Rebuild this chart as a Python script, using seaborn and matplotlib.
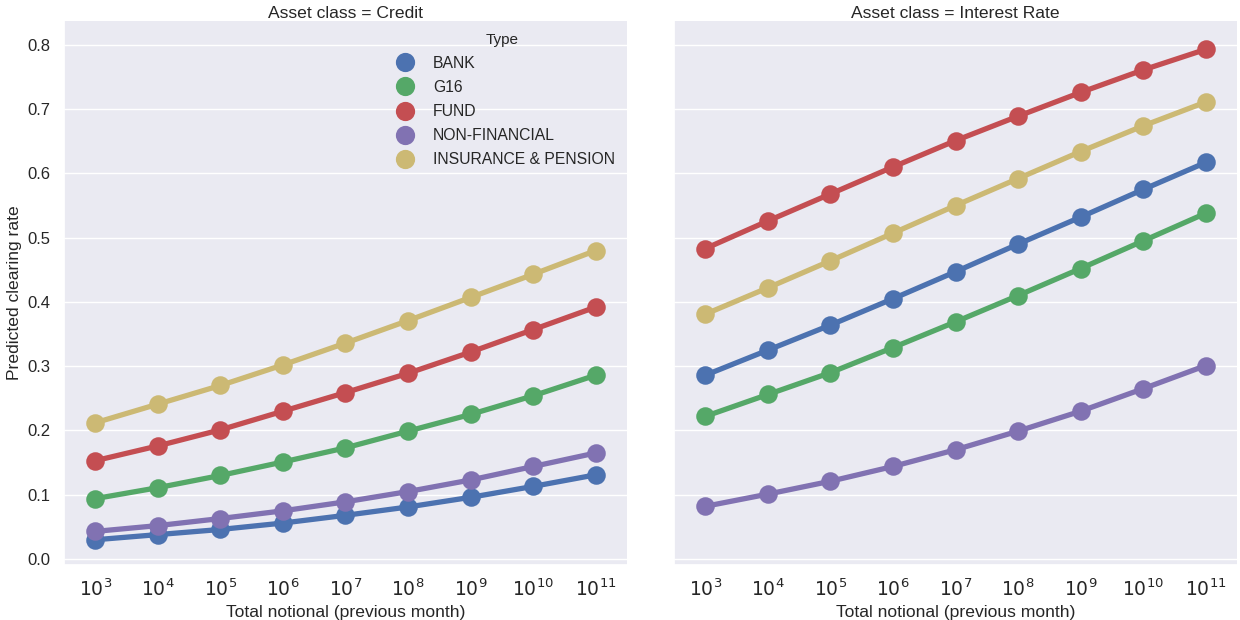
import numpy as np
import pandas as pd
import seaborn as sns
import matplotlib.pyplot as plt

# values
notional = ['$10^{3}$', '$10^{4}$', '$10^{5}$', '$10^{6}$', '$10^{7}$',
            '$10^{8}$', '$10^{9}$', '$10^{10}$', '$10^{11}$']
types = ['BANK', 'G16', 'FUND', 'NON-FINANCIAL', 'INSURANCE & PENSION']

credit = {
    'BANK': [0.030, 0.038, 0.046, 0.056, 0.068, 0.081, 0.096, 0.113, 0.131],
    'G16': [0.094, 0.111, 0.130, 0.151, 0.173, 0.199, 0.225, 0.254, 0.286],
    'FUND': [0.153, 0.176, 0.201, 0.230, 0.259, 0.289, 0.322, 0.357, 0.392],
    'NON-FINANCIAL': [0.043, 0.052, 0.063, 0.075, 0.089, 0.105, 0.123, 0.144, 0.165],
    'INSURANCE & PENSION': [0.212, 0.241, 0.270, 0.302, 0.336, 0.371, 0.407, 0.443, 0.480],
}
interest_rate = {
    'BANK': [0.286, 0.325, 0.364, 0.405, 0.447, 0.490, 0.532, 0.575, 0.617],
    'G16': [0.222, 0.256, 0.290, 0.329, 0.369, 0.410, 0.452, 0.495, 0.538],
    'FUND': [0.483, 0.526, 0.568, 0.610, 0.651, 0.689, 0.726, 0.761, 0.793],
    'NON-FINANCIAL': [0.082, 0.101, 0.121, 0.144, 0.170, 0.199, 0.230, 0.265, 0.301],
    'INSURANCE & PENSION': [0.381, 0.422, 0.464, 0.507, 0.550, 0.592, 0.634, 0.674, 0.711],
}

rows = []
for asset, table in [('Credit', credit), ('Interest Rate', interest_rate)]:
    for t in types:
        for x, v in zip(notional, table[t]):
            rows.append({'Asset class': asset, 'Type': t,
                         'Total notional (previous month)': x,
                         'Predicted clearing rate': v})
df = pd.DataFrame(rows)

sns.set_theme(style='darkgrid', context='notebook', font_scale=1.05)
plt.rcParams['font.family'] = ['Liberation Sans', 'DejaVu Sans']

old_deep = ['#4C72B0', '#55A868', '#C44E52', '#8172B2', '#CCB974']

g = sns.catplot(
    data=df,
    x='Total notional (previous month)',
    y='Predicted clearing rate',
    hue='Type',
    col='Asset class',
    kind='point',
    order=notional,
    hue_order=types,
    palette=old_deep,
    markersize=10.5,
    linewidth=3.8,
    height=6.2,
    aspect=1.0,
)
g.figure.set_size_inches(12.4, 6.2)
g.figure.subplots_adjust(left=0.0516, right=0.9976, top=0.966,
                         bottom=0.0887, wspace=0.0835)
g.set_titles('Asset class = {col_name}', pad=2, fontsize=12.5)
g.set(ylim=(-0.0093, 0.837), yticks=np.arange(0, 0.81, 0.1))
for ax in g.axes.flat:
    ax.tick_params(axis='x', labelsize=13.5)
    ax.tick_params(axis='y', labelsize=12)

sns.move_legend(g, 'upper center', bbox_to_anchor=(0.405, 0.97),
                frameon=False, title='Type', labelspacing=0.58,
                fontsize=11.3, title_fontsize=11)
for h in g.legend.legend_handles:
    h.set_linestyle('None')
    h.set_markersize(11)

g.figure.savefig('out.png', dpi=100)
